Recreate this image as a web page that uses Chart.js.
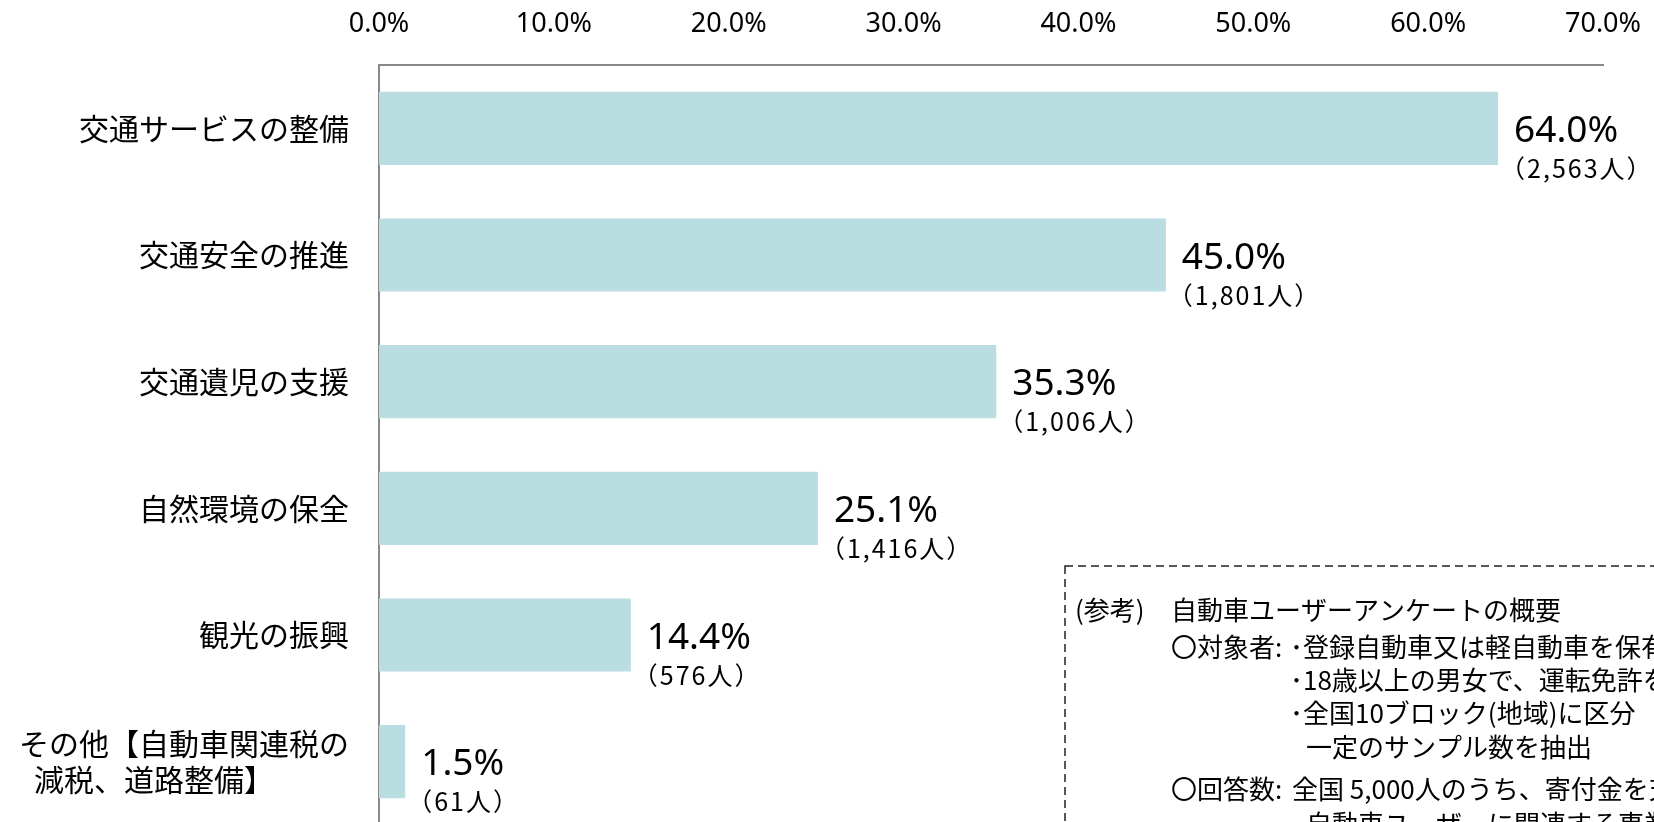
<!DOCTYPE html>
<html>
<head>
<meta charset="utf-8">
<script src="https://cdn.jsdelivr.net/npm/chart.js@4"></script>
<style>
  html, body { margin: 0; padding: 0; background: #fff; overflow: hidden; }
  canvas { display: block; }
</style>
</head>
<body>
<canvas id="barChart" width="1654" height="840"></canvas>
<script>
const categories = [
    '交通サービスの整備',
    '交通安全の推進',
    '交通遺児の支援',
    '自然環境の保全',
    '観光の振興',
    ['その他【自動車関連税の', '減税、道路整備】\u3000\u3000\u3000']
];
const percents = [64.0, 45.0, 35.3, 25.1, 14.4, 1.5];
const counts = ['2,563', '1,801', '1,006', '1,416', '576', '61'];
const axisMax = 70;
const axisStep = 10;

const jpFont = "'Noto Sans CJK JP', 'Noto Sans', sans-serif";
Chart.defaults.font.family = jpFont;
Chart.defaults.color = '#000';

// percent and (count人) next to each bar
const valueLabels = {
    id: 'valueLabels',
    afterDatasetsDraw(chart) {
        const ctx = chart.ctx;
        const meta = chart.getDatasetMeta(0);
        ctx.save();
        ctx.fillStyle = '#000';
        ctx.textAlign = 'left';
        ctx.textBaseline = 'middle';
        meta.data.forEach((bar, i) => {
            ctx.font = "37px 'Noto Sans', sans-serif";
            ctx.letterSpacing = '0px';
            ctx.fillText(percents[i].toFixed(1) + '%', bar.x + 16, bar.y + 3);
            ctx.font = "25px " + jpFont;
            ctx.letterSpacing = '2px';
            ctx.fillText('（' + counts[i] + '人）', bar.x + 2, bar.y + 40);
        });
        ctx.restore();
    }
};

// dashed note box, bottom right
const noteBox = {
    id: 'noteBox',
    afterDraw(chart) {
        const ctx = chart.ctx;
        ctx.save();
        ctx.strokeStyle = '#222';
        ctx.lineWidth = 1.5;
        ctx.setLineDash([8, 5]);
        ctx.strokeRect(1065, 566, 800, 400);
        ctx.setLineDash([]);
        ctx.fillStyle = '#000';
        ctx.textBaseline = 'middle';
        ctx.textAlign = 'left';
        ctx.font = "26px " + jpFont;
        const lines = [
            [1075, 610, '(参考)'],
            [1171, 610, '自動車ユーザーアンケートの概要'],
            [1171, 647, '〇対象者:'],
            [1290, 647, '･登録自動車又は軽自動車を保有'],
            [1290, 680, '･18歳以上の男女で、運転免許を保有'],
            [1290, 713, '･全国10ブロック(地域)に区分'],
            [1306, 747, '一定のサンプル数を抽出'],
            [1171, 789, '〇回答数:'],
            [1292, 789, '全国 5,000人のうち、寄付金を充'],
            [1306, 824, '自動車ユーザーに関連する事業']
        ];
        lines.forEach(l => ctx.fillText(l[2], l[0], l[1]));
        ctx.restore();
    }
};

const ctx = document.getElementById('barChart').getContext('2d');
new Chart(ctx, {
    type: 'bar',
    data: {
        labels: categories,
        datasets: [{
            data: percents,
            backgroundColor: '#badde1',
            borderWidth: 0,
            barPercentage: 0.577,
            categoryPercentage: 1.0
        }]
    },
    options: {
        indexAxis: 'y',
        responsive: false,
        animation: false,
        layout: {
            padding: { top: 8.6, left: 19, right: 51, bottom: 15 }
        },
        plugins: {
            legend: { display: false },
            tooltip: { enabled: false }
        },
        scales: {
            x: {
                position: 'top',
                min: 0,
                max: axisMax,
                grid: { display: false, drawTicks: false },
                border: { display: true, color: '#888', width: 2 },
                ticks: {
                    stepSize: axisStep,
                    padding: 24,
                    font: { family: "'Noto Sans', sans-serif", size: 27 },
                    callback: function(value) {
                        return value.toFixed(1) + '%';
                    }
                },
                afterFit: function(scale) {
                    scale.height = 56.4;
                    scale.paddingLeft = 0;
                    scale.paddingRight = 0;
                }
            },
            y: {
                grid: { display: false, drawTicks: false },
                border: { display: true, color: '#888', width: 2 },
                ticks: {
                    padding: 30,
                    font: { size: 30, lineHeight: 1.2 }
                },
                afterFit: function(scale) {
                    scale.width = 360;
                    scale.paddingTop = 0;
                    scale.paddingBottom = 0;
                }
            }
        }
    },
    plugins: [valueLabels, noteBox]
});
</script>
</body>
</html>
